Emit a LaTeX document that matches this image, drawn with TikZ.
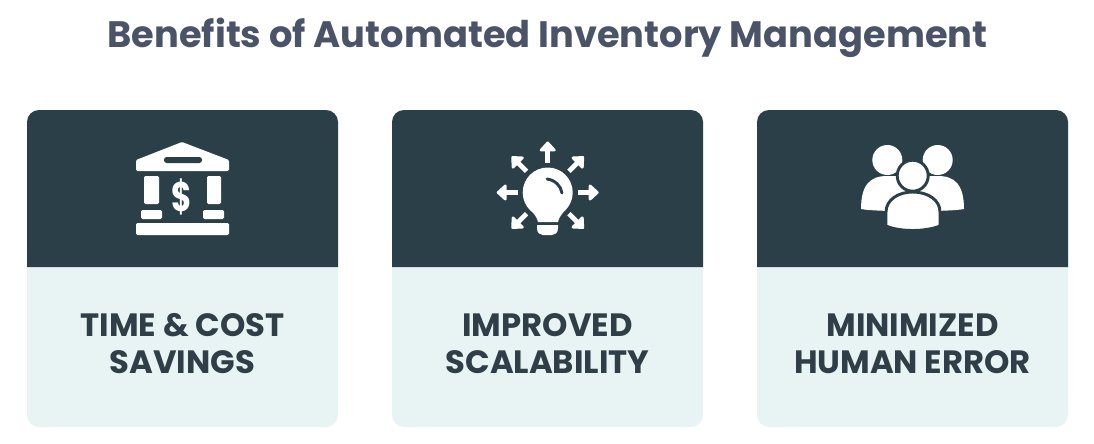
\documentclass[tikz,border=0pt]{standalone}
\usepackage{fontspec}
\setmainfont{Poppins}
\usetikzlibrary{arrows.meta,calc}

\definecolor{headdark}{HTML}{2A3F47}
\definecolor{bodylight}{HTML}{E8F4F4}
\definecolor{titlegrey}{HTML}{4A5368}
\definecolor{labeldark}{HTML}{2F3E47}

\begin{document}
\begin{tikzpicture}[x=0.75pt,y=-0.75pt]

\def\cardw{311}
\def\headtop{110}
\def\headbot{267}
\def\cardbot{427}

\tikzstyle{title}=[text=titlegrey,font=\bfseries\fontsize{27.6}{30}\selectfont]
\tikzstyle{label}=[text=labeldark,align=center,font=\bfseries\fontsize{24.2}{27.7}\selectfont]
\tikzstyle{icon}=[fill=white,rounded corners=1pt]
\tikzstyle{ray}=[draw=white,line width=3.6pt,-{Triangle[length=8pt,width=14pt,round]}]

\useasboundingbox (0,0) rectangle (1094,443);

%title
\node[title] (title) at (547.5,38) {Benefits of Automated Inventory Management};

%cards
\foreach \cx in {27,392,757}{
  \fill[bodylight,rounded corners=9pt] (\cx,\headtop) rectangle (\cx+\cardw,\cardbot);
  \fill[headdark] (\cx,\headbot) [rounded corners=9pt] -- (\cx,\headtop) -- (\cx+\cardw,\headtop) [sharp corners] -- (\cx+\cardw,\headbot) -- cycle;
}

%labels
\node[label] (cost) at (182.5,344) {TIME \& COST\\SAVINGS};
\node[label] (scale) at (547.5,344) {IMPROVED\\SCALABILITY};
\node[label] (error) at (912.5,344) {MINIMIZED\\HUMAN ERROR};

%bank
\fill[icon] (182,142) -- (229,160) -- (229,171) -- (136,171) -- (136,160) -- cycle;
\fill[headdark,rounded corners=2pt] (164,157) rectangle (202,163);
\fill[icon] (144,176) rectangle (159,204);
\fill[icon] (207,176) rectangle (221,204);
\fill[icon] (141,210) rectangle (162,219);
\fill[icon] (203,210) rectangle (224,219);
\fill[icon] (136,223) rectangle (229,235);
\node[text=white,xscale=0.75,font=\bfseries\fontsize{31}{31}\selectfont] (dollar) at (182,197) {\$};

%bulb
\coordinate (bulb) at (547.7,192.5);
\fill[white] (bulb) circle[radius=25];
\fill[white] (530,209) .. controls (534,214) and (537,217) .. (538,222) -- (558,222) .. controls (559,217) and (562,214) .. (566,209) -- cycle;
\fill[white] (537,225) -- (558,225) -- (558,228) .. controls (558,233) and (555,235) .. (552,235) -- (543,235) .. controls (540,235) and (537,233) .. (537,228) -- cycle;
\draw[headdark,line width=2.2pt,line cap=round] (547,179) .. controls (555,180) and (561,186) .. (562,193);
\foreach \ang in {0,45,135,180,225,270,315}{
  \draw[ray] ($(bulb)+(\ang:30)$) -- ($(bulb)+(\ang:51)$);
}

%people
\fill[white] (887.3,160) circle[radius=15];
\fill[white] (937.7,160) circle[radius=15];
\fill[white] (861,209) .. controls (861,185) and (870,176) .. (887,176) -- (938,176) .. controls (955,176) and (964,185) .. (964,209) .. controls (950,212) and (875,212) .. (861,209) -- cycle;
\fill[white,draw=headdark,line width=2.2pt] (912.7,175.7) circle[radius=15.5];
\fill[white,draw=headdark,line width=2.2pt] (886,226) -- (886,212) .. controls (886,200) and (898,192) .. (912.7,192) .. controls (928,192) and (940,200) .. (940,212) -- (940,226) .. controls (925,232) and (900,232) .. (886,226) -- cycle;

\end{tikzpicture}
\end{document}
